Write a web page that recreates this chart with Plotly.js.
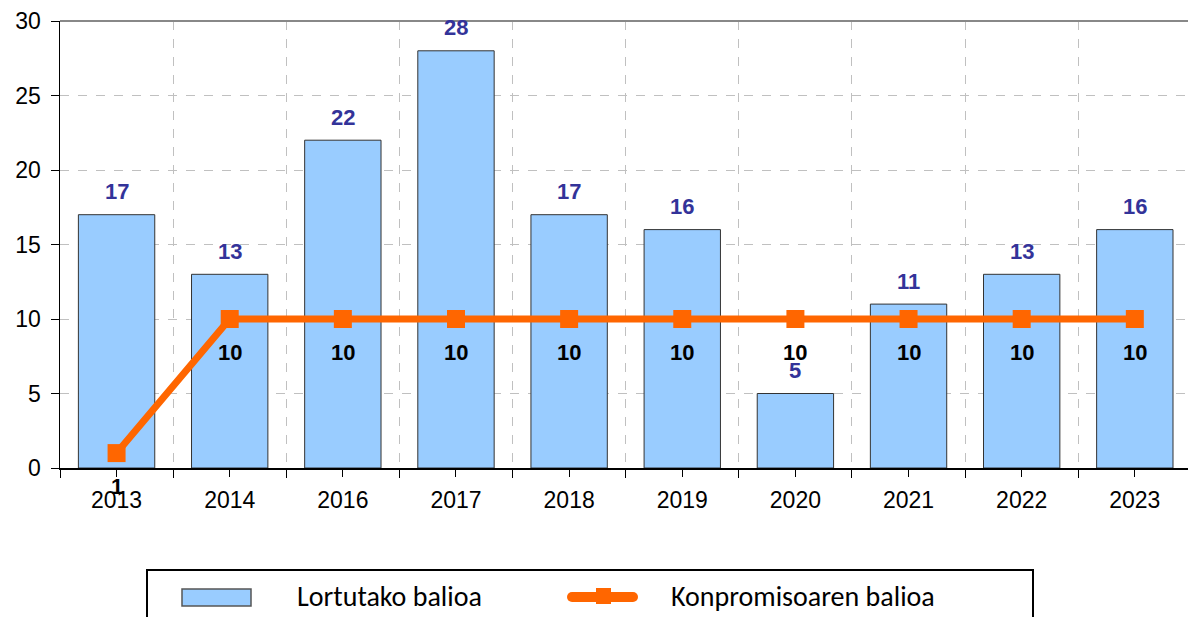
<!DOCTYPE html>
<html>
<head>
<meta charset="utf-8">
<script src="https://cdn.plot.ly/plotly-3.0.1.min.js"></script>
<style>html,body{margin:0;padding:0;background:#fff;}#chart{width:1188px;height:617px;}</style>
</head>
<body>
<div id="chart"></div>
<script>
var categories = ["2013","2014","2016","2017","2018","2019","2020","2021","2022","2023"];
var achieved = [17,13,22,28,17,16,5,11,13,16];
var commitment = [1,10,10,10,10,10,10,10,10,10];
var seriesNames = ["Lortutako balioa","Konpromisoaren balioa"];
var yTicks = [0,5,10,15,20,25,30];

var BLUE = "#99CCFF", ORANGE = "#FF6600";
var xIdx = categories.map(function(_, i){ return i; });

var barTrace = {
  type: "bar", name: seriesNames[0], x: xIdx, y: achieved, width: 0.675,
  marker: {color: BLUE, line: {color: "#333333", width: 1}},
  showlegend: false, hoverinfo: "y"
};
var lineTrace = {
  type: "scatter", mode: "lines+markers", name: seriesNames[1], x: xIdx, y: commitment,
  line: {color: ORANGE, width: 7},
  marker: {symbol: "square", size: 18, color: ORANGE},
  showlegend: false, hoverinfo: "y"
};

var labelFont = "Liberation Sans, Arial, sans-serif";
var annotations = [];
achieved.forEach(function(v, i){
  annotations.push({x: i, y: v, xref: "x", yref: "y", text: String(v), showarrow: false,
    yshift: 23, yanchor: "middle",
    font: {family: labelFont, size: 22, color: "#333399", weight: "bold"}});
});
commitment.forEach(function(v, i){
  annotations.push({x: i, y: v, xref: "x", yref: "y", text: String(v), showarrow: false,
    yshift: -33, yanchor: "middle",
    font: {family: labelFont, size: 22, color: "#000000", weight: "bold"}});
});

// legend drawn in paper coordinates (plot area: x 60..1188 px, y 21..468 px)
function PX(p){ return (p - 60) / 1128; }
function PY(p){ return (468 - p) / 447; }
var legendFont = {family: "Carlito, Lato, sans-serif", size: 28, color: "#000"};
annotations.push({xref: "paper", yref: "paper", x: PX(295), y: PY(596), xanchor: "left", yanchor: "middle",
  text: seriesNames[0], showarrow: false, font: legendFont});
annotations.push({xref: "paper", yref: "paper", x: PX(669), y: PY(596), xanchor: "left", yanchor: "middle",
  text: seriesNames[1], showarrow: false, font: legendFont});

var shapes = [
  {type: "line", xref: "paper", yref: "paper", x0: 0, x1: 1, y0: 1, y1: 1, line: {color: "#888888", width: 2}},
  {type: "rect", xref: "paper", yref: "paper", x0: PX(147), x1: PX(1033), y0: PY(570), y1: PY(660),
    line: {color: "#000", width: 2}, fillcolor: "rgba(0,0,0,0)"},
  {type: "rect", xref: "paper", yref: "paper", x0: PX(182), x1: PX(251), y0: PY(589), y1: PY(606),
    line: {color: "#555555", width: 1.5}, fillcolor: BLUE},
  {type: "line", xref: "paper", yref: "paper", x0: PX(572), x1: PX(633), y0: PY(597), y1: PY(597),
    line: {color: ORANGE, width: 10}},
  {type: "circle", xref: "paper", yref: "paper", x0: PX(567), x1: PX(577), y0: PY(592), y1: PY(602),
    line: {width: 0}, fillcolor: ORANGE},
  {type: "circle", xref: "paper", yref: "paper", x0: PX(628), x1: PX(638), y0: PY(592), y1: PY(602),
    line: {width: 0}, fillcolor: ORANGE},
  {type: "rect", xref: "paper", yref: "paper", x0: PX(596), x1: PX(611), y0: PY(588), y1: PY(604),
    line: {width: 0}, fillcolor: ORANGE}
];

var layout = {
  width: 1188, height: 617,
  margin: {l: 60, r: 0, t: 21, b: 149, pad: 0},
  paper_bgcolor: "#ffffff", plot_bgcolor: "#ffffff",
  showlegend: false,
  xaxis: {
    range: [-0.5, 9.47],
    tickmode: "array", tickvals: xIdx, ticktext: categories,
    ticks: "outside", ticklen: 7, tickcolor: "#000", tickwidth: 1,
    showgrid: false, zeroline: false,
    showline: true, linecolor: "#000", linewidth: 1.5,
    tickfont: {family: labelFont, size: 23, color: "#000"},
    ticklabelstandoff: 4,
    minor: {tick0: -0.5, dtick: 1, ticks: "outside", ticklen: 8, tickcolor: "#000",
      showgrid: true, gridcolor: "#C0C0C0", griddash: "dash", gridwidth: 1}
  },
  yaxis: {
    range: [0, 30], tickmode: "array", tickvals: yTicks,
    ticks: "outside", ticklen: 8, tickcolor: "#000", tickwidth: 1,
    showgrid: true, gridcolor: "#C0C0C0", griddash: "dash", gridwidth: 1,
    zeroline: false, showline: true, linecolor: "#000", linewidth: 1.5,
    tickfont: {family: labelFont, size: 23, color: "#000"},
    ticklabelstandoff: 5
  },
  shapes: shapes,
  annotations: annotations
};

Plotly.newPlot("chart", [barTrace, lineTrace], layout, {displayModeBar: false, staticPlot: true});
</script>
</body>
</html>
